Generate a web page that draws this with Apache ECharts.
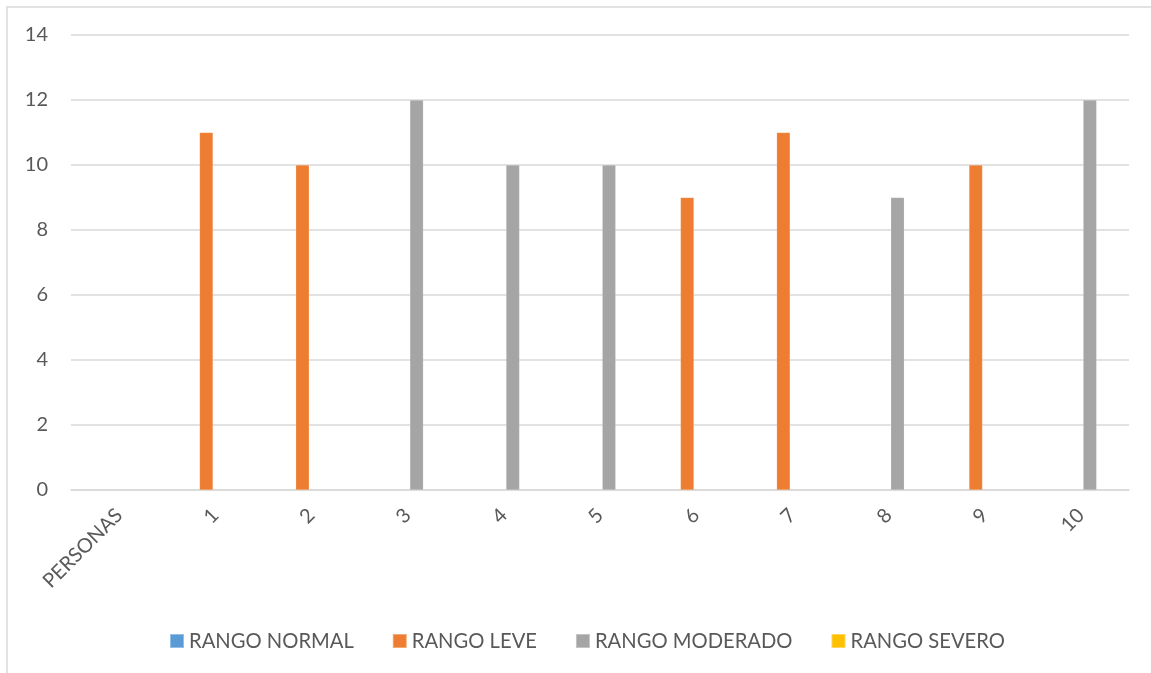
<!DOCTYPE html>
<html>
<head>
<meta charset="utf-8">
<script src="https://cdn.jsdelivr.net/npm/echarts@6/dist/echarts.min.js"></script>
<style>
  html, body { margin: 0; padding: 0; background: #fff; }
  #chart { width: 1151px; height: 673px; }
</style>
</head>
<body>
<div id="chart"></div>
<script>
// Categories along the x axis
const categories = ['PERSONAS', '1', '2', '3', '4', '5', '6', '7', '8', '9', '10'];

// Series names
const seriesNames = ['RANGO NORMAL', 'RANGO LEVE', 'RANGO MODERADO', 'RANGO SEVERO'];

// Values per series ('-' = no value)
const rangoNormal   = ['-', '-', '-', '-', '-', '-', '-', '-', '-', '-', '-'];
const rangoLeve     = ['-', 11, 10, '-', '-', '-', 9, 11, '-', 10, '-'];
const rangoModerado = ['-', '-', '-', 12, 10, 10, '-', '-', 9, '-', 12];
const rangoSevero   = ['-', '-', '-', '-', '-', '-', '-', '-', '-', '-', '-'];

const seriesData = [rangoNormal, rangoLeve, rangoModerado, rangoSevero];
const colors = ['#5b9bd5', '#ed7d31', '#a5a5a5', '#ffc000'];

const fontFamily = 'Lato, "Open Sans", sans-serif';
const textColor = '#595959';

const chart = echarts.init(document.getElementById('chart'), null, { renderer: 'canvas' });

chart.setOption({
  animation: false,
  backgroundColor: '#ffffff',
  color: colors,
  grid: { left: 71, right: 22, top: 35, bottom: 183, containLabel: false },
  legend: {
    bottom: 17,
    left: 164,
    itemWidth: 14,
    itemHeight: 14,
    itemGap: 38,
    icon: 'rect',
    textStyle: { color: textColor, fontSize: 20.2, fontFamily: fontFamily, padding: [0, 0, 0, 0] },
    data: seriesNames
  },
  xAxis: {
    type: 'category',
    data: categories,
    axisLine: { show: true, lineStyle: { color: '#d9d9d9', width: 1.5 } },
    axisTick: { show: false },
    axisLabel: { color: textColor, fontSize: 20, fontFamily: fontFamily, rotate: 45, margin: 22, interval: 0 }
  },
  yAxis: {
    type: 'value',
    min: 0,
    max: 14,
    interval: 2,
    axisLine: { show: false },
    axisTick: { show: false },
    axisLabel: { color: textColor, fontSize: 20, fontFamily: fontFamily, margin: 23 },
    splitLine: { lineStyle: { color: '#d9d9d9', width: 1.5 } }
  },
  series: seriesNames.map((name, i) => ({
    name: name,
    type: 'bar',
    data: seriesData[i],
    barWidth: 13.5,
    barGap: '33%',
    itemStyle: { color: colors[i], borderColor: 'rgba(255,255,255,0.35)', borderWidth: 0.5 }
  })),
  graphic: [
    {
      type: 'polyline',
      silent: true,
      shape: { points: [[7, 673], [7, 7], [1151, 7]] },
      style: { stroke: '#d9d9d9', lineWidth: 1.5, fill: null }
    }
  ]
});
</script>
</body>
</html>
